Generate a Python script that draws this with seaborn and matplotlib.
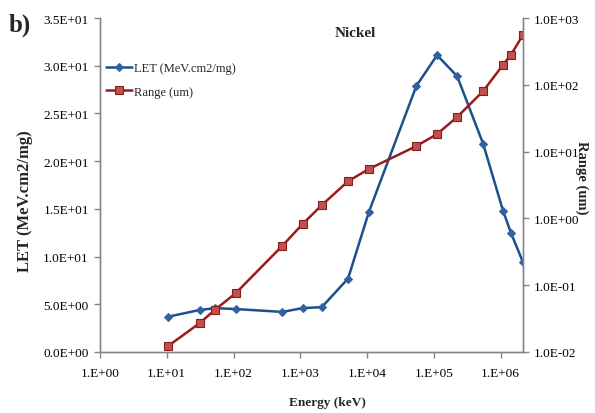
import numpy as np
import pandas as pd
import matplotlib
matplotlib.use('Agg')
import matplotlib.pyplot as plt
import seaborn as sns
from matplotlib.ticker import FixedLocator, FuncFormatter, NullLocator

# datos (Nickel)
energy_kev = [10.5, 31, 53, 108, 540, 1080, 2100, 5200, 10700, 55000, 112000,
              224000, 550000, 1090000, 1430000, 2170000]
let_values = [3.7, 4.4, 4.6, 4.5, 4.2, 4.6, 4.7, 7.7, 14.7, 27.9, 31.1,
              28.9, 21.8, 14.8, 12.5, 9.4]
range_um = [0.0123, 0.027, 0.043, 0.076, 0.39, 0.82, 1.58, 3.6, 5.5, 12.1, 18.3,
            32.9, 80.6, 199, 281, 560]

df = pd.DataFrame({'Energy': energy_kev, 'LET': let_values, 'Range': range_um})

sns.set_style('white')
plt.rcParams['font.family'] = ['Liberation Serif', 'DejaVu Serif']

fig = plt.figure(figsize=(5.95, 4.14), dpi=100)
ax = fig.add_axes([100 / 595, 1 - 353 / 414, 423 / 595, 334 / 414])
ax2 = ax.twinx()

blue = '#1f4e8c'
red = '#9b1b1b'

sns.lineplot(x='Energy', y='LET', data=df, ax=ax, color=blue, linewidth=1.8,
             marker='D', markersize=4, markerfacecolor='#2f62a3',
             markeredgecolor='#2f62a3', label='LET (MeV.cm2/mg)', legend=False)
sns.lineplot(x='Energy', y='Range', data=df, ax=ax2, color=red, linewidth=1.8,
             marker='s', markersize=6, markerfacecolor='#c0504d',
             markeredgecolor='#8b1a1a', markeredgewidth=0.8,
             label='Range (um)', legend=False)

ax.set_xscale('log')
ax.set_xlim(1, 2170000)
ax.set_ylim(0, 35)
ax2.set_yscale('log')
ax2.set_ylim(1e-2, 1e3)

ax.xaxis.set_major_locator(FixedLocator([10.0 ** k for k in range(0, 7)]))
ax.xaxis.set_minor_locator(NullLocator())
ax.xaxis.set_major_formatter(FuncFormatter(lambda v, p: '1.E+%02d' % round(np.log10(v))))
ax.yaxis.set_major_locator(FixedLocator(np.arange(0, 35.1, 5)))
ax.yaxis.set_major_formatter(FuncFormatter(lambda v, p: '%.1E' % v))
ax2.yaxis.set_major_locator(FixedLocator([10.0 ** k for k in range(-2, 4)]))
ax2.yaxis.set_minor_locator(NullLocator())
ax2.yaxis.set_major_formatter(FuncFormatter(lambda v, p: '%.1E' % v))

ax.set_xlabel('')
ax.set_ylabel('')
ax2.set_ylabel('')

for a in (ax, ax2):
    for s in a.spines.values():
        s.set_color('#868686')
        s.set_linewidth(1.0)
    a.spines['top'].set_visible(False)
    a.tick_params(axis='both', which='major', length=4, width=1.0, color='#868686',
                  direction='out', labelsize=9.5, labelcolor='black', pad=4)
ax.tick_params(axis='y', left=True)
ax.tick_params(axis='x', bottom=True, pad=7)
ax2.tick_params(axis='y', right=True)

# leyenda
h1, l1 = ax.get_legend_handles_labels()
h2, l2 = ax2.get_legend_handles_labels()
fig.legend(h1 + h2, l1 + l2, loc='upper left', bbox_to_anchor=(0.170, 0.86),
           frameon=False, fontsize=9, handlelength=2.1, handletextpad=0.1,
           labelspacing=0.95, borderaxespad=0)

fig.text(0.597, 0.918, 'Nickel', ha='center', va='center', fontsize=11, fontweight='bold')
fig.text(0.034, 0.94, 'b)', ha='center', va='center', fontsize=18, fontweight='bold')
fig.text(0.042, 0.515, 'LET (MeV.cm2/mg)', ha='center', va='center', rotation=90,
         fontsize=12, fontweight='bold')
fig.text(0.978, 0.57, 'Range (um)', ha='center', va='center', rotation=270,
         fontsize=10.5, fontweight='bold')
fig.text(0.551, 0.027, 'Energy (keV)', ha='center', va='center', fontsize=9.5,
         fontweight='bold')

fig.savefig('out.png', dpi=100)
